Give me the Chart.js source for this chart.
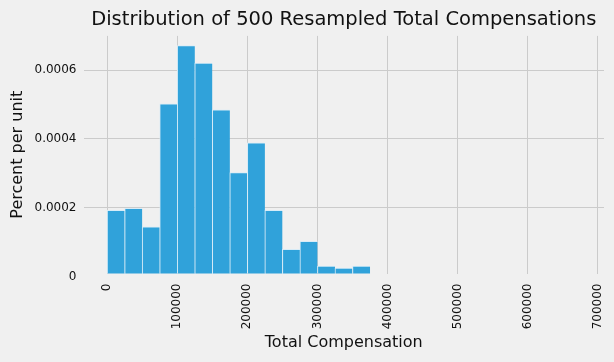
<!DOCTYPE html>
<html>
<head>
<meta charset="utf-8">
<script src="https://cdn.jsdelivr.net/npm/chart.js@4"></script>
<style>
  html, body { margin: 0; padding: 0; background: #f0f0f0; }
  #wrap { width: 614px; height: 362px; }
</style>
</head>
<body>
<div id="wrap"><canvas id="chart" width="614" height="362"></canvas></div>
<script>
// Histogram data (bin left edges, bin width, height in percent per unit)
const binWidth = 25000;
const binStarts = [0, 25000, 50000, 75000, 100000, 125000, 150000, 175000, 200000,
    225000, 250000, 275000, 300000, 325000, 350000, 375000, 400000];
const heights = [0.000192, 0.000198, 0.000144, 0.000502, 0.000672, 0.000621, 0.000485,
    0.000302, 0.000389, 0.000192, 0.000079, 0.000102, 0.000030, 0.000024, 0.000030,
    0.00000008, 0.00000008];

// Axis ticks
const xTicks = [0, 100000, 200000, 300000, 400000, 500000, 600000, 700000];
const yTicks = [0, 0.0002, 0.0004, 0.0006];

const font = 'DejaVu Sans';
const textColor = '#111';
const gridColor = '#cbcbcb';

const bars = binStarts.map((start, i) => ({ x: start + binWidth / 2, y: heights[i] }));

const chart = new Chart(document.getElementById('chart'), {
    type: 'bar',
    data: {
        datasets: [{
            data: bars,
            backgroundColor: '#30a2da',
            borderColor: '#d8ecf7',
            borderWidth: { top: 1, left: 1, right: 0, bottom: 0 },
            borderSkipped: false,
            barPercentage: 1,
            categoryPercentage: 1
        }]
    },
    options: {
        responsive: false,
        animation: false,
        layout: { padding: { left: 0, right: 10, top: 0, bottom: 0 } },
        plugins: {
            legend: { display: false },
            tooltip: { enabled: false },
            title: {
                display: true,
                text: 'Distribution of 500 Resampled Total Compensations',
                color: textColor,
                fullSize: false,
                font: { family: font, size: 19.5, weight: 'normal' },
                padding: { top: 8, bottom: 4.5 }
            }
        },
        scales: {
            x: {
                type: 'linear',
                offset: false,
                min: -33750,
                max: 708750,
                afterBuildTicks: scale => { scale.ticks = xTicks.map(v => ({ value: v })); },
                afterFit: scale => {
                    scale.height = 88.5;
                    scale.paddingLeft = 0;
                    scale.paddingRight = 0;
                },
                border: { display: false },
                grid: { color: gridColor, lineWidth: 1, drawTicks: false, offset: false },
                ticks: {
                    color: textColor,
                    font: { family: font, size: 12 },
                    minRotation: 90,
                    maxRotation: 90,
                    padding: 10,
                    autoSkip: false,
                    callback: v => String(v)
                },
                title: {
                    display: true,
                    text: 'Total Compensation',
                    color: textColor,
                    font: { family: font, size: 16 },
                    padding: { top: 0, bottom: 9.5 }
                }
            },
            y: {
                min: 0.0000084,
                max: 0.0007,
                afterBuildTicks: scale => { scale.ticks = yTicks.map(v => ({ value: v })); },
                afterFit: scale => { scale.width = 83.5; },
                border: { display: false },
                grid: {
                    color: ctx => (ctx.tick && ctx.tick.value === 0) ? 'rgba(0,0,0,0)' : gridColor,
                    lineWidth: 1,
                    drawTicks: false
                },
                ticks: {
                    color: textColor,
                    font: { family: font, size: 12 },
                    padding: 7,
                    callback: v => v === 0 ? '0' : v.toFixed(4)
                },
                title: {
                    display: true,
                    text: 'Percent per unit',
                    color: textColor,
                    font: { family: font, size: 16 },
                    padding: { top: 8, bottom: 0 }
                }
            }
        }
    }
});
</script>
</body>
</html>
